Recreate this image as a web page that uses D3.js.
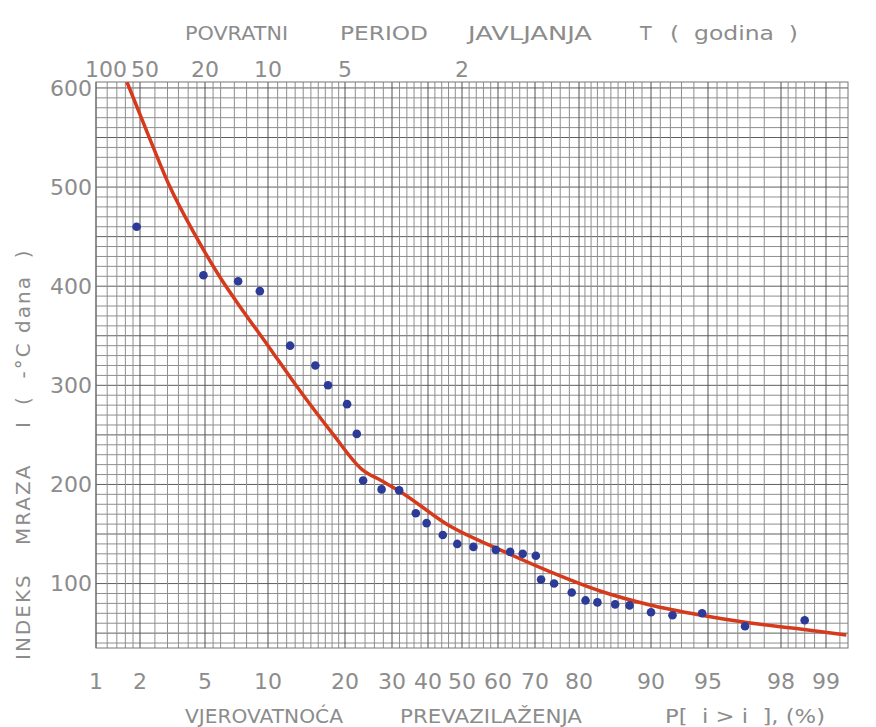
<!DOCTYPE html>
<html>
<head>
<meta charset="utf-8">
<script src="https://d3js.org/d3.v7.min.js"></script>
<style>
 body {margin:0; background:#fff;}
 svg {display:block;}
 text {font-family: "DejaVu Sans", "Liberation Sans", sans-serif; fill:#8c8c8c; white-space: pre;}
</style>
<title>Indeks mraza</title>
</head>
<body>
<div id="contenedor"></div>
<script>
var width = 876, height = 727;

// osa x: vjerovatnoca prevazilazenja (%), gornja osa: povratni period (godina)
var probTicks = [1, 2, 5, 10, 20, 30, 40, 50, 60, 70, 80, 90, 95, 98, 99];
var periodTicks = [100, 50, 20, 10, 5, 2];
var indexTicks = [100, 200, 300, 400, 500, 600];

// izmjerene vrijednosti
var obsP = [1.9, 4.9, 7.3, 9.2, 12.4, 15.6, 17.4, 20.4, 22.3, 23.6, 27.6, 31.9, 36.5, 39.6, 44.3, 48.6, 53.2,
            59.4, 63.4, 66.8, 70.2, 71.5, 74.6, 78.5, 81.1, 83.0, 85.6, 87.5, 90.0, 92.2, 94.6, 96.8, 98.6];
var obsI = [460, 411, 405, 395, 340, 320, 300, 281, 251, 204, 195, 194, 171, 161, 149, 140, 137,
            134, 132, 130, 128, 104, 100, 91, 83, 81, 79, 78, 71, 68, 70, 57, 63];

// teorijska kriva
var fitP = [1.64, 2.26, 3.11, 4.38, 5.96, 7.70, 10.0, 13.1, 18.1, 23.4, 27.5, 32.1, 46.4, 60.6, 73.6, 83.4, 89.9, 94.45, 97.0, 98.5, 99.28];
var fitI = [606, 553, 500, 452, 409, 375, 340, 300, 251, 215, 204, 193, 158, 134, 112, 92.5, 78.4, 68.3, 60.2, 54.1, 48.1];

// linije mreze
var gridP = [1, 1.2, 1.4, 1.6, 1.8, 2, 2.5, 3, 3.5, 4, 4.5, 5, 5.5, 6, 7, 8, 9, 10, 11, 12, 13, 14, 15, 16, 17, 18, 19, 20,
             22, 24, 26, 28, 30, 32, 34, 36, 38, 40, 42, 44, 46, 48, 50, 52, 54, 56, 58, 60, 62, 64, 66, 68, 70, 72, 74, 76, 78, 80,
             81, 82, 83, 84, 85, 86, 87, 88, 89, 90, 91, 92, 93, 94, 95, 95.5, 96, 96.5, 97, 97.5, 98, 98.2, 98.4, 98.6, 98.8, 99, 99.2];
var majorP = [1, 2, 5, 10, 20, 30, 40, 50, 60, 70, 80, 90, 95, 98, 99];
var gridI = d3.range(40, 601, 10);

// inverzna normalna raspodjela (Acklam)
function probit(p) {
  var a = [-3.969683028665376e+01, 2.209460984245205e+02, -2.759285104469687e+02, 1.383577518672690e+02, -3.066479806614716e+01, 2.506628277459239e+00];
  var b = [-5.447609879822406e+01, 1.615858368580409e+02, -1.556989798598866e+02, 6.680131188771972e+01, -1.328068155288572e+01];
  var c = [-7.784894002430293e-03, -3.223964580411365e-01, -2.400758277161838e+00, -2.549732539343734e+00, 4.374664141464968e+00, 2.938163982698783e+00];
  var d = [7.784695709041462e-03, 3.224671290700398e-01, 2.445134137142996e+00, 3.754408661907416e+00];
  var pl = 0.02425, q, r;
  if (p < pl) {
    q = Math.sqrt(-2 * Math.log(p));
    return (((((c[0]*q+c[1])*q+c[2])*q+c[3])*q+c[4])*q+c[5]) / ((((d[0]*q+d[1])*q+d[2])*q+d[3])*q+1);
  }
  if (p > 1 - pl) {
    q = Math.sqrt(-2 * Math.log(1 - p));
    return -(((((c[0]*q+c[1])*q+c[2])*q+c[3])*q+c[4])*q+c[5]) / ((((d[0]*q+d[1])*q+d[2])*q+d[3])*q+1);
  }
  q = p - 0.5; r = q * q;
  return (((((a[0]*r+a[1])*r+a[2])*r+a[3])*r+a[4])*r+a[5])*q / (((((b[0]*r+b[1])*r+b[2])*r+b[3])*r+b[4])*r+1);
}

var pLeft = 96, pRight = 848, pTop = 82, pBottom = 648;
// skenirani vjerovatnosni papir nije sasvim pravilan: probit skala po segmentima
var paperP = [1, 2, 5, 10, 20, 30, 40, 50, 60, 70, 80, 90, 95, 98, 99, 99.3];
var paperX = [96, 140, 205, 268, 345, 392, 428, 462, 498, 535, 579, 651, 708, 781, 826, 848];
var zScale = d3.scaleLinear().domain(paperP.map(p => probit(p / 100))).range(paperX);
function x(p) { return zScale(probit(p / 100)); }
var y = d3.scaleLinear().domain([35, 606]).range([pBottom, pTop]);

var svg = d3.select("#contenedor").append("svg").attr("width", width).attr("height", height);

svg.append("clipPath").attr("id", "clip")
   .append("rect").attr("x", pLeft).attr("y", pTop).attr("width", pRight - pLeft).attr("height", pBottom - pTop);

var grid = svg.append("g");
grid.selectAll("line.h").data(gridI).enter().append("line")
    .attr("x1", pLeft).attr("x2", pRight)
    .attr("y1", d => y(d)).attr("y2", d => y(d))
    .attr("stroke", d => d % 50 == 0 ? "#5e5e5e" : "#8e8e8e")
    .attr("stroke-width", 1);
grid.selectAll("line.v").data(gridP).enter().append("line")
    .attr("y1", pTop).attr("y2", pBottom)
    .attr("x1", d => x(d)).attr("x2", d => x(d))
    .attr("stroke", d => majorP.indexOf(d) >= 0 ? "#505050" : "#8e8e8e")
    .attr("stroke-width", 1);
grid.append("rect").attr("x", pLeft).attr("y", pTop).attr("width", pRight - pLeft).attr("height", pBottom - pTop)
    .attr("fill", "none").attr("stroke", "#777");

// kriva
var fit = fitP.map((p, i) => [p, fitI[i]]);
var line = d3.line().x(d => x(d[0])).y(d => y(d[1])).curve(d3.curveMonotoneX);
svg.append("path").datum(fit).attr("d", line).attr("clip-path", "url(#clip)")
   .attr("fill", "none").attr("stroke", "#d63a1c").attr("stroke-width", 3.5);

// tacke
var obs = obsP.map((p, i) => [p, obsI[i]]);
svg.selectAll("circle").data(obs).enter().append("circle")
   .attr("cx", d => x(d[0])).attr("cy", d => y(d[1])).attr("r", 4.3)
   .attr("fill", "#2c3a98");

// oznake osa
svg.selectAll("text.yt").data(indexTicks).enter().append("text")
   .attr("x", 92).attr("y", d => y(d)).attr("dy", "0.36em")
   .attr("text-anchor", "end").attr("font-size", 22).text(d => d);
svg.selectAll("text.xt").data(probTicks).enter().append("text")
   .attr("x", d => x(d)).attr("y", 689)
   .attr("text-anchor", "middle").attr("font-size", 22).text(d => d);
svg.selectAll("text.tt").data(periodTicks).enter().append("text")
   .attr("x", d => x(100 / d) + (d == 100 ? 10 : d == 50 ? 5 : 0)).attr("y", 77)
   .attr("text-anchor", "middle").attr("font-size", 22).text(d => d);

function words(list, yy, size) {
  list.forEach(function (w) {
    var t = svg.append("text").attr("x", w[1]).attr("y", yy).attr("font-size", size).text(w[0]);
    if (w[2]) t.attr("textLength", w[2]).attr("lengthAdjust", "spacingAndGlyphs");
  });
}
words([["VJEROVATNOĆA", 185, 158], ["PREVAZILAŽENJA", 400, 182], ["P[  i > i  ], (%)", 665, 160]], 723, 19);
words([["POVRATNI", 185, 103], ["PERIOD", 340, 88], ["JAVLJANJA", 468, 124], ["T", 640], ["(  godina  )", 670, 128]], 40, 19);

var yl = svg.append("g").attr("transform", "translate(30,0) rotate(-90)");
[["INDEKS", -660], ["MRAZA", -545], ["I", -428], ["(  -°C dana  )", -405]].forEach(function (w) {
  yl.append("text").attr("x", w[1]).attr("y", 0).attr("font-size", 20)
    .attr("letter-spacing", 2).text(w[0]);
});
</script>
</body>
</html>
